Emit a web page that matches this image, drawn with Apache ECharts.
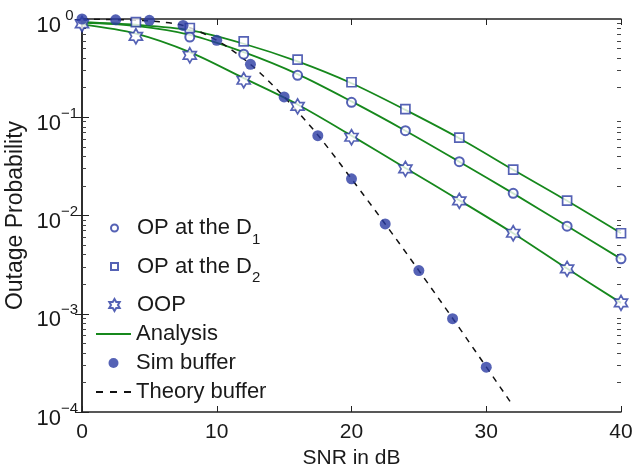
<!DOCTYPE html>
<html>
<head>
<meta charset="utf-8">
<script src="https://cdn.jsdelivr.net/npm/echarts@6/dist/echarts.min.js"></script>
<style>html,body{margin:0;padding:0;background:#fff}#c{width:632px;height:468px}</style>
</head>
<body>
<div id="c"></div>
<script>
// ---- data ----
const xTicks = [0, 10, 20, 30, 40];
const snrD1 = [8, 12, 16, 20, 24, 28, 32, 36, 40];
const opD1 = [0.656, 0.438, 0.267, 0.142, 0.073, 0.0353, 0.0168, 0.00778, 0.00362];
const snrD2 = [4, 8, 12, 16, 20, 24, 28, 32, 36, 40];
const opD2 = [0.93, 0.81, 0.593, 0.386, 0.227, 0.121, 0.062, 0.0293, 0.0142, 0.0066];
const snrOOP = [0, 4, 8, 12, 16, 20, 24, 28, 32, 36, 40];
const oop = [0.89, 0.667, 0.427, 0.238, 0.129, 0.0626, 0.0298, 0.0141, 0.0066, 0.00286, 0.00129];
const snrAna = [0, 4, 8, 12, 16, 20, 24, 28, 32, 36, 40];
const anaD1 = [0.92, 0.85, 0.69, 0.46, 0.275, 0.145, 0.073, 0.0353, 0.0168, 0.0078, 0.00362];
const anaD2 = [0.93, 0.875, 0.77, 0.56, 0.37, 0.222, 0.119, 0.0612, 0.0292, 0.0141, 0.0066];
const anaOOP = [0.88, 0.71, 0.46, 0.25, 0.135, 0.065, 0.0305, 0.0143, 0.0066, 0.00288, 0.00129];
const snrSim = [0, 2.5, 5, 7.5, 10, 12.5, 15, 17.5, 20, 22.5, 25, 27.5, 30];
const simBuf = [1.0, 0.98, 0.97, 0.86, 0.607, 0.346, 0.161, 0.065, 0.0236, 0.0082, 0.00275, 0.00089, 0.000286];
const snrTheory = [0, 2.5, 5, 7.5, 10, 12.5, 15, 17.5, 20, 22.5, 25, 27.5, 30, 32];
const theoryBuf = [1.0, 0.985, 0.955, 0.86, 0.607, 0.346, 0.161, 0.066, 0.0236, 0.0082, 0.00275, 0.0009, 0.000288, 0.000115];
const yDecades = [1e-4, 1e-3, 1e-2, 1e-1, 1];
const yMinor = [2e-4,3e-4,4e-4,5e-4,6e-4,7e-4,8e-4,9e-4,2e-3,3e-3,4e-3,5e-3,6e-3,7e-3,8e-3,9e-3,2e-2,3e-2,4e-2,5e-2,6e-2,7e-2,8e-2,9e-2,0.2,0.3,0.4,0.5,0.6,0.7,0.8,0.9];
const legendNames = ['OP at the D1', 'OP at the D2', 'OOP', 'Analysis', 'Sim buffer', 'Theory buffer'];

const pair = (xs, ys) => xs.map((x, i) => [x, ys[i]]);
const BLUE = '#2a3ba3';
const GREEN = '#16881c';
const FONT = 'Liberation Sans, Arial, sans-serif';
const HEX = 'path://M100 0 L128.9 50 L186.6 50 L157.7 100 L186.6 150 L128.9 150 L100 200 L71.1 150 L13.4 150 L42.3 100 L13.4 50 L71.1 50 Z';
const SQ = 'path://M0 0 L10 0 L10 10 L0 10 Z';
const LINEICON = 'path://M0 0 H35 V1 H0 Z';
const DASHICON = 'path://M0 0 H7 V1 H0 Z M14 0 H21 V1 H14 Z M28 0 H35 V1 H28 Z';

const chart = echarts.init(document.getElementById('c'), null, {renderer: 'canvas'});

const supFmt = v => {
  const e = Math.round(Math.log10(v));
  return '{b|10}{s|' + (e === 0 ? '0' : '\u2212' + (-e)) + '}';
};

const baseY = {
  type: 'log', logBase: 10, min: 1e-4, max: 1, gridIndex: 0,
  splitLine: {show: false}, minorTick: {show: false}, minorSplitLine: {show: false}
};

function legendItem(name, left, top, h, extra) {
  return Object.assign({
    data: [name], left: left, top: top, orient: 'vertical', padding: 0,
    itemWidth: 35, itemHeight: h, selectedMode: false,
    textStyle: {
      fontFamily: FONT, fontSize: 22, color: '#1a1a1a', lineHeight: 24,
      rich: {
        n: {fontFamily: FONT, fontSize: 22, color: '#1a1a1a', lineHeight: 22, verticalAlign: 'top'},
        sub: {fontFamily: FONT, fontSize: 15, color: '#1a1a1a', lineHeight: 15, padding: [15, 0, 0, 0], verticalAlign: 'top'}
      }
    },
    formatter: nm => {
      if (nm === 'OP at the D1') return '{n|OP at the D}{sub|1}';
      if (nm === 'OP at the D2') return '{n|OP at the D}{sub|2}';
      return nm;
    }
  }, extra || {});
}

const option = {
  backgroundColor: '#fff',
  animation: false,
  grid: {left: 82, right: 11, top: 19, bottom: 56, containLabel: false, outerBoundsMode: 'none'},
  legend: [
    legendItem(legendNames[0], 110, 217, 7),
    legendItem(legendNames[1], 110, 255.5, 7),
    legendItem(legendNames[2], 108.3, 293, 12),
    legendItem(legendNames[3], 96, 322, 2, {data: [{name: legendNames[3], icon: LINEICON}], symbolKeepAspect: false}),
    legendItem(legendNames[4], 108.5, 351, 10),
    legendItem(legendNames[5], 96, 380, 2, {data: [{name: legendNames[5], icon: DASHICON}], symbolKeepAspect: false})
  ],
  xAxis: [
    {
      type: 'value', min: 0, max: 40, interval: 10, position: 'bottom',
      name: 'SNR in dB', nameLocation: 'middle', nameGap: 34,
      nameTextStyle: {fontFamily: FONT, fontSize: 21, color: '#1a1a1a'},
      axisLine: {show: true, lineStyle: {color: '#222', width: 1.5}},
      axisTick: {show: true, inside: true, length: 6, lineStyle: {color: '#222', width: 1}},
      axisLabel: {fontFamily: FONT, fontSize: 21, color: '#1a1a1a', margin: 10, customValues: xTicks},
      splitLine: {show: false}
    },
    {
      type: 'value', min: 0, max: 40, interval: 10, position: 'top',
      axisLine: {show: true, lineStyle: {color: '#222', width: 1.5}},
      axisTick: {show: true, inside: true, length: 6, lineStyle: {color: '#222', width: 1}},
      axisLabel: {show: false}, splitLine: {show: false}
    }
  ],
  yAxis: [
    Object.assign({}, baseY, {
      position: 'left',
      name: 'Outage Probability', nameLocation: 'middle', nameGap: 55, nameMoveOverlap: false,
      nameTextStyle: {fontFamily: FONT, fontSize: 23, color: '#1a1a1a'},
      axisLine: {show: true, lineStyle: {color: '#222', width: 1.5}},
      axisTick: {show: true, inside: true, length: 7, lineStyle: {color: '#222', width: 1}, customValues: yDecades},
      axisLabel: {
        margin: 4, formatter: supFmt, customValues: yDecades,
        rich: {
          b: {fontFamily: FONT, fontSize: 22, color: '#1a1a1a', lineHeight: 22, padding: [6.5, 0, 12.5, 0], verticalAlign: 'top'},
          s: {fontFamily: FONT, fontSize: 15, color: '#1a1a1a', lineHeight: 15, width: 17, align: 'left', verticalAlign: 'top'}
        }
      }
    }),
    Object.assign({}, baseY, {
      position: 'right',
      axisLine: {show: true, lineStyle: {color: '#222', width: 1.5}},
      axisTick: {show: true, inside: true, length: 7, lineStyle: {color: '#222', width: 1}, customValues: yDecades},
      axisLabel: {show: false}
    }),
    Object.assign({}, baseY, {
      position: 'left',
      axisLine: {show: false},
      axisTick: {show: true, inside: true, length: 4, lineStyle: {color: '#444', width: 1}, customValues: yMinor},
      axisLabel: {show: false}
    }),
    Object.assign({}, baseY, {
      position: 'right',
      axisLine: {show: false},
      axisTick: {show: true, inside: true, length: 4, lineStyle: {color: '#444', width: 1}, customValues: yMinor},
      axisLabel: {show: false}
    })
  ],
  series: [
    {name: 'Analysis', type: 'line', data: pair(snrAna, anaD2), smooth: 0.3, symbol: 'none',
     lineStyle: {color: GREEN, width: 1.8}, itemStyle: {color: GREEN}, z: 2},
    {name: 'Analysis', type: 'line', data: pair(snrAna, anaD1), smooth: 0.3, symbol: 'none',
     lineStyle: {color: GREEN, width: 1.8}, itemStyle: {color: GREEN}, z: 2},
    {name: 'Analysis', type: 'line', data: pair(snrAna, anaOOP), smooth: 0.3, symbol: 'none',
     lineStyle: {color: GREEN, width: 1.8}, itemStyle: {color: GREEN}, z: 2},
    {name: 'Theory buffer', type: 'line', data: pair(snrTheory, theoryBuf), smooth: 0.3, symbol: 'none',
     lineStyle: {color: '#111', width: 1.5, type: [6, 6]}, itemStyle: {color: '#111'}, z: 3},
    {name: 'OP at the D1', type: 'scatter', data: pair(snrD1, opD1), symbol: 'emptyCircle', symbolSize: 9,
     itemStyle: {color: BLUE, borderColor: BLUE, borderWidth: 1.7}, z: 4},
    {name: 'OP at the D2', type: 'scatter', data: pair(snrD2, opD2), symbol: SQ, symbolSize: 9, symbolKeepAspect: true,
     itemStyle: {color: '#fff', borderColor: BLUE, borderWidth: 1.7}, z: 4},
    {name: 'OOP', type: 'scatter', data: pair(snrOOP, oop), symbol: HEX, symbolSize: 15, symbolKeepAspect: true,
     itemStyle: {color: '#fff', borderColor: BLUE, borderWidth: 1.7}, z: 4},
    {name: 'Sim buffer', type: 'scatter', data: pair(snrSim, simBuf), symbol: 'circle', symbolSize: 11,
     itemStyle: {color: BLUE}, z: 5}
  ]
};
chart.setOption(option);
</script>
</body>
</html>
